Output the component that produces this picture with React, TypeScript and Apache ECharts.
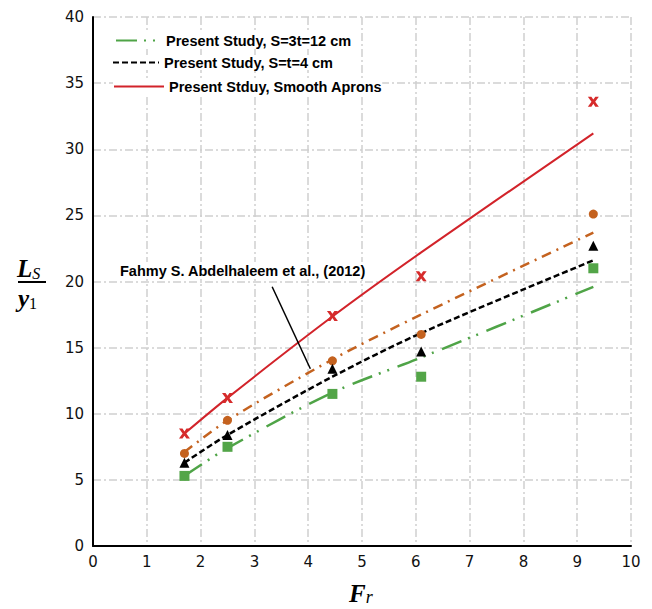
import React, { useEffect, useRef } from 'react';
import * as echarts from 'echarts';

// Froude numbers of the tests
const frValues = [1.7, 2.5, 4.45, 6.1, 9.3];

// Measured points
const smoothApronPoints = [8.5, 11.2, 17.4, 20.4, 33.6];
const fahmyPoints = [7.0, 9.5, 14.0, 16.0, 25.1];
const s4Points = [6.3, 8.4, 13.4, 14.7, 22.7];
const s12Points = [5.3, 7.5, 11.5, 12.8, 21.0];

// Fitted curves (read at the same Froude numbers)
const smoothApronLine = [8.5, 11.2, 17.35, 22.2, 31.2];
const fahmyLine = [7.1, 9.5, 14.1, 17.5, 23.7];
const s4Line = [6.3, 8.4, 12.8, 16.1, 21.6];
const s12Line = [5.3, 7.4, 11.6, 14.25, 19.6];

// Axis ranges
const xMin = 0, xMax = 10, xStep = 1;
const yMin = 0, yMax = 40, yStep = 5;

// Annotation arrow [Fr, Ls/y1]
const arrowStart = [3.33, 19.6];
const arrowEnd = [4.04, 13.4];

const nameS12 = 'Present Study, S=3t=12 cm';
const nameS4 = 'Present Study, S=t=4 cm';
const nameSmooth = 'Present Stduy, Smooth Aprons';
const nameFahmy = 'Fahmy S. Abdelhaleem et al., (2012)';

const zip = (xs: number[], ys: number[]) => xs.map((x, i) => [x, ys[i]]);

const RED = '#d2232a';
const ORANGE = '#c4621f';
const GREEN = '#4fa447';
const BLACK = '#000000';

const crossPath =
  'path://M0,0 L3.2,0 L5,2.8 L6.8,0 L10,0 L6.7,5 L10,10 L6.8,10 L5,7.2 L3.2,10 L0,10 L3.3,5 Z';

const legendText = {
  fontFamily: 'Liberation Sans',
  fontWeight: 'bold' as const,
  fontSize: 14.5,
  color: '#000',
};

export default function App() {
  const ref = useRef<HTMLDivElement>(null);

  useEffect(() => {
    if (!ref.current) return;
    const chart = echarts.init(ref.current, undefined, { renderer: 'svg' });

    const mathFont = 'Liberation Serif';

    chart.setOption({
      animation: false,
      backgroundColor: '#ffffff',
      grid: { left: 93, right: 21, top: 17, bottom: 63, containLabel: false },
      xAxis: {
        type: 'value',
        min: xMin,
        max: xMax,
        interval: xStep,
        axisLine: { show: true, onZero: false, lineStyle: { color: '#000', width: 2 } },
        axisTick: { show: false },
        axisLabel: { fontFamily: 'DejaVu Sans', fontSize: 15, color: '#111', margin: 8 },
        splitLine: {
          show: true,
          lineStyle: { color: '#cfcfcf', width: 1.5, type: [8, 3, 2, 3] },
        },
      },
      yAxis: {
        type: 'value',
        min: yMin,
        max: yMax,
        interval: yStep,
        axisLine: { show: true, onZero: false, lineStyle: { color: '#000', width: 2 } },
        axisTick: { show: false },
        axisLabel: { fontFamily: 'DejaVu Sans', fontSize: 15, color: '#111', margin: 9 },
        splitLine: {
          show: true,
          lineStyle: { color: '#cfcfcf', width: 1.5, type: [8, 3, 2, 3] },
        },
      },
      legend: [
        {
          data: [nameS12],
          left: 115,
          top: 33,
          itemWidth: 45,
          itemHeight: 14,
          padding: 0,
          backgroundColor: '#fff',
          itemStyle: { opacity: 0 },
          textStyle: legendText,
          selectedMode: false,
        },
        {
          data: [nameS4],
          left: 112,
          top: 55,
          itemWidth: 46,
          itemHeight: 14,
          padding: 0,
          backgroundColor: '#fff',
          itemStyle: { opacity: 0 },
          textStyle: legendText,
          selectedMode: false,
        },
        {
          data: [nameSmooth],
          left: 113,
          top: 79,
          itemWidth: 50,
          itemHeight: 14,
          padding: 0,
          backgroundColor: '#fff',
          itemStyle: { opacity: 0 },
          textStyle: legendText,
          selectedMode: false,
        },
      ],
      series: [
        {
          name: nameS12,
          type: 'line',
          data: zip(frValues, s12Line),
          smooth: 0.3,
          symbol: 'none',
          lineStyle: { color: GREEN, width: 2.5, type: [21, 7, 2, 7, 2, 9] },
          itemStyle: { color: GREEN },
          z: 2,
        },
        {
          name: nameS4,
          type: 'line',
          data: zip(frValues, s4Line),
          smooth: 0.3,
          symbol: 'none',
          lineStyle: { color: BLACK, width: 2.5, type: [6, 3] },
          itemStyle: { color: BLACK },
          z: 2,
        },
        {
          name: nameSmooth,
          type: 'line',
          data: zip(frValues, smoothApronLine),
          smooth: 0.3,
          symbol: 'none',
          lineStyle: { color: RED, width: 2, type: 'solid' },
          itemStyle: { color: RED },
          z: 2,
        },
        {
          name: nameFahmy,
          type: 'line',
          data: zip(frValues, fahmyLine),
          smooth: 0.3,
          symbol: 'none',
          lineStyle: { color: ORANGE, width: 2.5, type: [10, 6, 2, 6] },
          itemStyle: { color: ORANGE },
          z: 2,
          markLine: {
            silent: true,
            symbol: ['none', 'arrow'],
            symbolSize: [0, 10],
            label: { show: false },
            lineStyle: { color: '#000', width: 1.5, type: 'solid' },
            data: [[{ coord: arrowStart }, { coord: arrowEnd }]],
          },
        },
        {
          name: 'Smooth aprons data',
          type: 'scatter',
          data: zip(frValues, smoothApronPoints),
          symbol: crossPath,
          symbolSize: [11, 10],
          itemStyle: { color: '#d62b2b', opacity: 1 },
          z: 5,
        },
        {
          name: 'Fahmy data',
          type: 'scatter',
          data: zip(frValues, fahmyPoints),
          symbol: 'circle',
          symbolSize: 9,
          itemStyle: { color: ORANGE, opacity: 1 },
          z: 5,
        },
        {
          name: 'S=t=4 data',
          type: 'scatter',
          data: zip(frValues, s4Points),
          symbol: 'triangle',
          symbolSize: [10, 10],
          itemStyle: { color: BLACK, opacity: 1 },
          z: 5,
        },
        {
          name: 'S=3t=12 data',
          type: 'scatter',
          data: zip(frValues, s12Points),
          symbol: 'rect',
          symbolSize: 10,
          itemStyle: { color: '#53a548', opacity: 1 },
          z: 5,
        },
      ],
      graphic: [
        {
          type: 'text',
          left: 118,
          top: 262,
          z: 10,
          style: {
            text: nameFahmy,
            fontFamily: 'Liberation Sans',
            fontWeight: 'bold',
            fontSize: 14.5,
            fill: '#000',
            backgroundColor: '#fff',
            padding: [1, 2],
          },
        },
        // y-axis name: Ls / y1
        {
          type: 'text',
          left: 17,
          top: 256,
          style: {
            text: '{b|L}{s|S}',
            rich: {
              b: {
                fontFamily: mathFont,
                fontWeight: 'bold',
                fontStyle: 'italic',
                fontSize: 25,
                fill: '#000',
                verticalAlign: 'bottom',
                lineHeight: 24,
              },
              s: {
                fontFamily: mathFont,
                fontStyle: 'italic',
                fontSize: 16,
                fill: '#000',
                verticalAlign: 'bottom',
                lineHeight: 20,
              },
            },
          },
        },
        {
          type: 'line',
          shape: { x1: 18, y1: 282, x2: 46, y2: 282 },
          style: { stroke: '#000', lineWidth: 2 },
        },
        {
          type: 'text',
          left: 18,
          top: 286,
          style: {
            text: '{b|y}{s|1}',
            rich: {
              b: {
                fontFamily: mathFont,
                fontWeight: 'bold',
                fontStyle: 'italic',
                fontSize: 25,
                fill: '#000',
                verticalAlign: 'bottom',
                lineHeight: 24,
              },
              s: {
                fontFamily: mathFont,
                fontSize: 16,
                fill: '#000',
                verticalAlign: 'bottom',
                lineHeight: 18,
              },
            },
          },
        },
        // x-axis name: Fr
        {
          type: 'text',
          left: 349,
          top: 581,
          style: {
            text: '{b|F}{s|r}',
            rich: {
              b: {
                fontFamily: mathFont,
                fontWeight: 'bold',
                fontStyle: 'italic',
                fontSize: 25,
                fill: '#000',
                verticalAlign: 'bottom',
                lineHeight: 24,
              },
              s: {
                fontFamily: mathFont,
                fontStyle: 'italic',
                fontSize: 18,
                fill: '#000',
                verticalAlign: 'bottom',
                lineHeight: 18,
              },
            },
          },
        },
      ],
    });

    return () => chart.dispose();
  }, []);

  return (
    <div
      ref={ref}
      style={{ width: 652, height: 609, position: 'absolute', left: 0, top: 0 }}
    />
  );
}
